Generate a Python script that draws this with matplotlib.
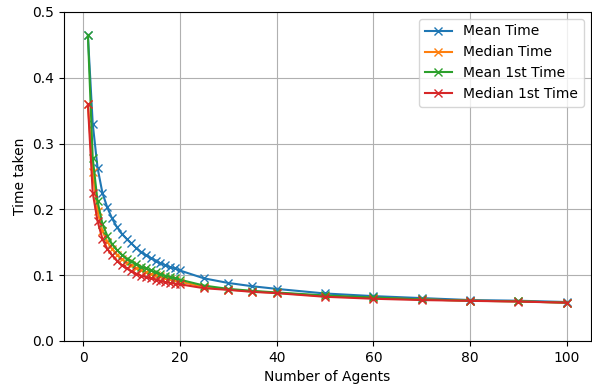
import numpy as np
import matplotlib
matplotlib.use("Agg")
import matplotlib.pyplot as plt

# number of agents in each run
agents = list(range(1, 21)) + [25, 30, 35, 40, 50, 60, 70, 80, 90, 100]

mean_time = [0.465, 0.330, 0.263, 0.225, 0.203, 0.186, 0.173, 0.163, 0.155, 0.148,
             0.141, 0.135, 0.130, 0.126, 0.122, 0.118, 0.115, 0.112, 0.110, 0.107,
             0.095, 0.088, 0.083, 0.079, 0.072, 0.068, 0.065, 0.062, 0.061, 0.059]
median_time = [0.360, 0.257, 0.197, 0.167, 0.151, 0.140, 0.131, 0.124, 0.119, 0.115,
               0.111, 0.108, 0.105, 0.102, 0.100, 0.098, 0.096, 0.094, 0.092, 0.090,
               0.082, 0.078, 0.075, 0.073, 0.068, 0.065, 0.063, 0.061, 0.060, 0.058]
mean_first = [0.465, 0.278, 0.212, 0.178, 0.160, 0.147, 0.138, 0.131, 0.125, 0.121,
              0.117, 0.113, 0.110, 0.107, 0.104, 0.101, 0.099, 0.097, 0.095, 0.093,
              0.084, 0.079, 0.076, 0.0735, 0.069, 0.066, 0.063, 0.061, 0.060, 0.058]
median_first = [0.360, 0.225, 0.182, 0.155, 0.140, 0.130, 0.122, 0.115, 0.110, 0.106,
                0.102, 0.099, 0.097, 0.095, 0.093, 0.091, 0.089, 0.088, 0.087, 0.086,
                0.080, 0.0775, 0.0745, 0.0725, 0.067, 0.064, 0.062, 0.0608, 0.0597, 0.058]

fig = plt.figure(figsize=(5.92, 3.86), dpi=100)
ax = fig.add_axes([0.108, 0.117, 0.89, 0.852])

ax.plot(agents, mean_time, marker='x', label='Mean Time')
ax.plot(agents, median_time, marker='x', label='Median Time')
ax.plot(agents, mean_first, marker='x', label='Mean 1st Time')
ax.plot(agents, median_first, marker='x', label='Median 1st Time')

ax.set_ylim(0, 0.5)
ax.set_xlabel('Number of Agents')
ax.set_ylabel('Time taken')
ax.grid(True)
ax.legend(loc='upper right')

fig.savefig('out.png', dpi=100)
